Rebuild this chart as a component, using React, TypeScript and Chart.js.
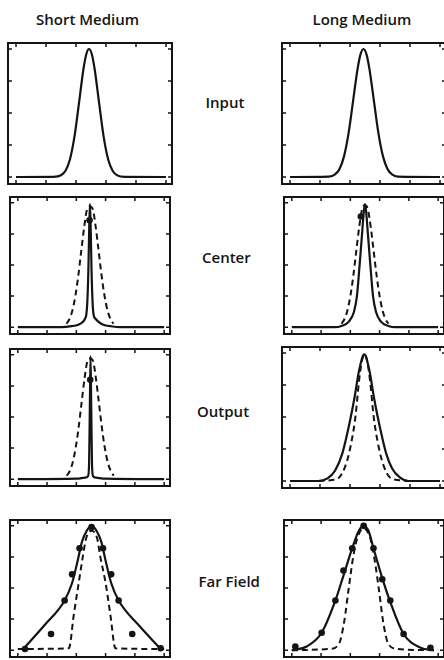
import React, { useEffect, useRef } from "react";
import { Chart, registerables } from "chart.js";

Chart.register(...registerables);

// ---- column / row labels ----
const COLUMN_TITLES = ["Short Medium", "Long Medium"];
const ROW_LABELS = ["Input", "Center", "Output", "Far Field"];

// ---- axis ticks (normalized position 0..10, intensity 0..1) ----
const X_TICKS = [0, 2, 4, 6, 8, 10];
const Y_TICKS = [0, 0.25, 0.5, 0.75, 1];

// ---- Short medium: Input ----
const SI_X = [0, 2.5, 3.0, 3.3, 3.6, 3.9, 4.2, 4.5, 4.7, 4.87, 5.05, 5.25, 5.55, 5.85, 6.15, 6.45, 6.75, 7.25, 10];
const SI_Y = [0, 0.001, 0.014, 0.049, 0.139, 0.317, 0.578, 0.846, 0.965, 1.0, 0.961, 0.838, 0.569, 0.31, 0.135, 0.047, 0.013, 0.001, 0];

// ---- Long medium: Input ----
const LI_X = [0, 2.6, 3.0, 3.3, 3.6, 3.9, 4.2, 4.5, 4.7, 4.9, 5.1, 5.3, 5.6, 5.9, 6.2, 6.5, 6.8, 7.2, 10];
const LI_Y = [0, 0.003, 0.02, 0.063, 0.161, 0.339, 0.589, 0.841, 0.958, 1.0, 0.958, 0.841, 0.589, 0.339, 0.161, 0.063, 0.02, 0.003, 0];

// ---- Short medium: Center ----
const SC_X = [0, 3.0, 3.67, 4.13, 4.47, 4.6, 4.68, 4.75, 4.82, 4.88, 4.93, 4.98, 5.04, 5.11, 5.18, 5.3, 5.5, 5.85, 6.35, 7.0, 10];
const SC_Y = [0, 0, 0.008, 0.02, 0.045, 0.07, 0.1, 0.2, 0.45, 0.8, 0.99, 0.8, 0.45, 0.2, 0.1, 0.07, 0.045, 0.02, 0.008, 0, 0];
const SCD_X = [3.33, 3.53, 3.73, 3.93, 4.13, 4.33, 4.53, 4.73, 4.93, 5.13, 5.33, 5.53, 5.73, 5.93, 6.13, 6.33, 6.53];
const SCD_Y = [0.028, 0.066, 0.135, 0.249, 0.411, 0.607, 0.8, 0.946, 0.97, 0.946, 0.8, 0.607, 0.411, 0.249, 0.135, 0.066, 0.028];
const SC_DOT_X = [4.9];
const SC_DOT_Y = [0.86];

// ---- Long medium: Center ----
const LC_X = [0, 2.9, 3.4, 3.9, 4.24, 4.45, 4.64, 4.8, 4.92, 5.0, 5.08, 5.2, 5.36, 5.55, 5.76, 6.09, 6.6, 7.1, 10];
const LC_Y = [0, 0, 0.01, 0.045, 0.12, 0.25, 0.51, 0.75, 0.93, 0.99, 0.93, 0.75, 0.51, 0.25, 0.12, 0.045, 0.01, 0, 0];
const LCD_X = [3.4, 3.6, 3.8, 4.0, 4.2, 4.4, 4.6, 4.8, 5.0, 5.2, 5.4, 5.6, 5.8, 6.0, 6.2, 6.4, 6.6];
const LCD_Y = [0.028, 0.066, 0.135, 0.249, 0.411, 0.607, 0.8, 0.946, 0.98, 0.946, 0.8, 0.607, 0.411, 0.249, 0.135, 0.066, 0.028];
const LC_DOT_X = [4.72];
const LC_DOT_Y = [0.89];

// ---- Short medium: Output ----
const SO_X = [0, 4.0, 4.6, 4.8, 4.87, 4.92, 4.97, 5.02, 5.07, 5.14, 5.35, 6.0, 10];
const SO_Y = [0, 0.004, 0.012, 0.025, 0.12, 0.55, 0.99, 0.55, 0.12, 0.025, 0.012, 0.004, 0];
const SOD_X = [3.35, 3.55, 3.75, 3.95, 4.15, 4.35, 4.55, 4.75, 4.95, 5.15, 5.35, 5.55, 5.75, 5.95, 6.15, 6.35, 6.55];
const SOD_Y = [0.028, 0.066, 0.135, 0.249, 0.411, 0.607, 0.8, 0.946, 0.97, 0.946, 0.8, 0.607, 0.411, 0.249, 0.135, 0.066, 0.028];
const SO_DOT_X = [4.95];
const SO_DOT_Y = [0.8];

// ---- Long medium: Output ----
const LO_X = [0, 1.9, 2.5, 3.0, 3.5, 4.0, 4.3, 4.6, 4.95, 5.3, 5.6, 5.9, 6.4, 6.8, 7.3, 7.9, 10];
const LO_Y = [0, 0, 0.02, 0.08, 0.22, 0.47, 0.65, 0.86, 0.99, 0.86, 0.65, 0.47, 0.22, 0.1, 0.03, 0, 0];
const LOD_X = [1.9, 2.8, 3.3, 3.7, 4.0, 4.36, 4.6, 4.8, 4.97, 5.14, 5.34, 5.58, 5.94, 6.24, 6.64, 7.2, 7.9];
const LOD_Y = [0, 0.008, 0.03, 0.12, 0.25, 0.5, 0.78, 0.94, 0.99, 0.94, 0.78, 0.5, 0.25, 0.12, 0.03, 0.008, 0];

// ---- Short medium: Far Field ----
const SF_X = [0.3, 1.82, 3.2, 3.71, 4.09, 4.38, 4.71, 5.04, 5.38, 5.71, 6.0, 6.38, 6.89, 8.27, 9.76];
const SF_Y = [0, 0.2, 0.4, 0.54, 0.72, 0.87, 0.96, 1.0, 0.96, 0.87, 0.72, 0.54, 0.4, 0.2, 0.01];
const SFD_X = [0, 3.49, 3.82, 4.16, 4.44, 4.67, 5.04, 5.42, 5.64, 6.0, 6.33, 6.67, 10];
const SFD_Y = [0.01, 0.015, 0.28, 0.54, 0.75, 0.9, 0.96, 0.9, 0.75, 0.54, 0.28, 0.015, 0.01];
const SF_DOT_X = [0.49, 2.27, 3.2, 3.71, 4.22, 5.04, 5.82, 6.38, 6.89, 7.82, 9.76];
const SF_DOT_Y = [0.01, 0.13, 0.4, 0.61, 0.82, 0.99, 0.82, 0.61, 0.4, 0.13, 0.016];

// ---- Long medium: Far Field ----
const LF_X = [0, 1.02, 2.04, 2.98, 3.53, 4.13, 4.58, 4.91, 5.24, 5.58, 6.13, 6.69, 7.64, 8.8, 9.69];
const LF_Y = [0, 0.03, 0.14, 0.4, 0.6, 0.82, 0.96, 1.0, 0.96, 0.82, 0.6, 0.4, 0.13, 0.02, 0];
const LFD_X = [0, 2.6, 3.24, 3.58, 3.87, 4.18, 4.47, 4.91, 5.36, 5.64, 5.96, 6.24, 6.58, 7.2, 10];
const LFD_Y = [0, 0.01, 0.055, 0.23, 0.48, 0.74, 0.9, 0.98, 0.9, 0.74, 0.48, 0.23, 0.055, 0.01, 0];
const LF_DOT_X = [0.24, 2.04, 2.98, 3.53, 4.13, 4.91, 5.58, 6.18, 6.73, 7.64, 9.47];
const LF_DOT_Y = [0.03, 0.14, 0.4, 0.64, 0.82, 1.0, 0.82, 0.57, 0.4, 0.13, 0.02];

type Kind = "solid" | "dashed" | "dots";
type Series = { xs: number[]; ys: number[]; kind: Kind };

const INK = "#141414";

const COL_LEFT = [8, 282];
const ROW_TOP = [43, 195, 347, 518];
const BOX_W = 164;
const BOX_H = 141;
const PAD = 2;

const PANELS: { col: number; row: number; series: Series[] }[] = [
  { col: 0, row: 0, series: [{ xs: SI_X, ys: SI_Y, kind: "solid" }] },
  { col: 1, row: 0, series: [{ xs: LI_X, ys: LI_Y, kind: "solid" }] },
  {
    col: 0, row: 1, series: [
      { xs: SCD_X, ys: SCD_Y, kind: "dashed" },
      { xs: SC_X, ys: SC_Y, kind: "solid" },
      { xs: SC_DOT_X, ys: SC_DOT_Y, kind: "dots" },
    ],
  },
  {
    col: 1, row: 1, series: [
      { xs: LCD_X, ys: LCD_Y, kind: "dashed" },
      { xs: LC_X, ys: LC_Y, kind: "solid" },
      { xs: LC_DOT_X, ys: LC_DOT_Y, kind: "dots" },
    ],
  },
  {
    col: 0, row: 2, series: [
      { xs: SOD_X, ys: SOD_Y, kind: "dashed" },
      { xs: SO_X, ys: SO_Y, kind: "solid" },
      { xs: SO_DOT_X, ys: SO_DOT_Y, kind: "dots" },
    ],
  },
  {
    col: 1, row: 2, series: [
      { xs: LOD_X, ys: LOD_Y, kind: "dashed" },
      { xs: LO_X, ys: LO_Y, kind: "solid" },
    ],
  },
  {
    col: 0, row: 3, series: [
      { xs: SFD_X, ys: SFD_Y, kind: "dashed" },
      { xs: SF_X, ys: SF_Y, kind: "solid" },
      { xs: SF_DOT_X, ys: SF_DOT_Y, kind: "dots" },
    ],
  },
  {
    col: 1, row: 3, series: [
      { xs: LFD_X, ys: LFD_Y, kind: "dashed" },
      { xs: LF_X, ys: LF_Y, kind: "solid" },
      { xs: LF_DOT_X, ys: LF_DOT_Y, kind: "dots" },
    ],
  },
];

const framePlugin = {
  id: "frameTicks",
  afterDraw(chart: any) {
    const ctx = chart.ctx;
    const { left, top, right, bottom } = chart.chartArea;
    const xs = chart.scales.x;
    const ys = chart.scales.y;
    ctx.save();
    ctx.strokeStyle = INK;
    ctx.lineWidth = 1.5;
    const tl = 4;
    ctx.beginPath();
    X_TICKS.forEach((v) => {
      const px = xs.getPixelForValue(v);
      ctx.moveTo(px, bottom);
      ctx.lineTo(px, bottom - tl);
      ctx.moveTo(px, top);
      ctx.lineTo(px, top + tl);
    });
    Y_TICKS.forEach((v) => {
      const py = ys.getPixelForValue(v);
      ctx.moveTo(left, py);
      ctx.lineTo(left + tl, py);
      ctx.moveTo(right, py);
      ctx.lineTo(right - tl, py);
    });
    ctx.stroke();
    ctx.lineWidth = 2;
    ctx.strokeRect(left, top, right - left, bottom - top);
    ctx.restore();
  },
};

function Panel({ series, left, top }: { series: Series[]; left: number; top: number }) {
  const ref = useRef<HTMLCanvasElement>(null);
  useEffect(() => {
    if (!ref.current) return;
    const datasets = series.map((s) => {
      const data = s.xs.map((x, i) => ({ x, y: s.ys[i] }));
      if (s.kind === "dots") {
        return {
          data,
          showLine: false,
          pointRadius: 3.3,
          pointBackgroundColor: INK,
          pointBorderColor: INK,
          pointBorderWidth: 0,
          order: 0,
        };
      }
      return {
        data,
        borderColor: INK,
        borderWidth: s.kind === "solid" ? 2.2 : 2,
        borderDash: s.kind === "dashed" ? [6, 4] : [],
        pointRadius: 0,
        cubicInterpolationMode: "monotone" as const,
        fill: false,
        order: 1,
      };
    });
    const chart = new Chart(ref.current, {
      type: "line",
      data: { datasets: datasets as any },
      options: {
        animation: false,
        responsive: false,
        maintainAspectRatio: false,
        devicePixelRatio: 1,
        events: [],
        layout: { padding: PAD },
        plugins: { legend: { display: false }, tooltip: { enabled: false } },
        scales: {
          x: { type: "linear", display: false, min: -8 / 15, max: 10 + 6 / 15 },
          y: { type: "linear", display: false, min: -7 / 128, max: 1 + 6 / 128 },
        },
      },
      plugins: [framePlugin],
    });
    return () => chart.destroy();
  }, [series]);
  return (
    <canvas
      ref={ref}
      width={BOX_W + 2 * PAD}
      height={BOX_H + 2 * PAD}
      style={{
        position: "absolute",
        left: left - PAD,
        top: top - PAD,
        width: BOX_W + 2 * PAD,
        height: BOX_H + 2 * PAD,
      }}
    />
  );
}

const textStyle: React.CSSProperties = {
  position: "absolute",
  fontFamily: "'Open Sans', sans-serif",
  fontSize: 15,
  lineHeight: "15px",
  fontWeight: 600,
  color: INK,
  whiteSpace: "nowrap",
};

const TITLE_POS = [
  { left: 36, baseline: 25 },
  { left: 312.5, baseline: 25 },
];
const ROW_LABEL_POS = [
  { left: 205.5, baseline: 108 },
  { left: 202, baseline: 263 },
  { left: 197, baseline: 417 },
  { left: 198.5, baseline: 587 },
];

export default function App() {
  return (
    <div
      style={{
        position: "fixed",
        left: 0,
        top: 0,
        width: 444,
        height: 660,
        overflow: "hidden",
        background: "#fff",
      }}
    >
      {COLUMN_TITLES.map((t, i) => (
        <div key={t} style={{ ...textStyle, left: TITLE_POS[i].left, top: TITLE_POS[i].baseline - 13.3 }}>
          {t}
        </div>
      ))}
      {ROW_LABELS.map((t, i) => (
        <div key={t} style={{ ...textStyle, left: ROW_LABEL_POS[i].left, top: ROW_LABEL_POS[i].baseline - 13.3 }}>
          {t}
        </div>
      ))}
      {PANELS.map((p, i) => (
        <Panel key={i} series={p.series} left={COL_LEFT[p.col]} top={ROW_TOP[p.row]} />
      ))}
    </div>
  );
}
